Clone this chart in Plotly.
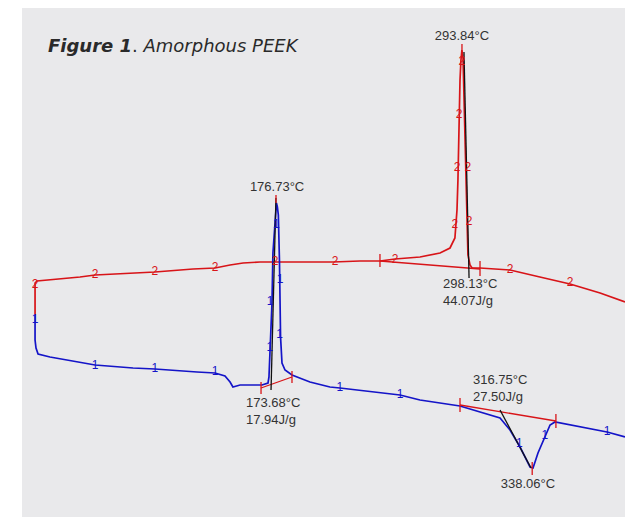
import plotly.graph_objects as go

# ---- DSC data (temperature in °C, heat flow in arbitrary units) ----
# Cycle 2 (red)
red_T = [25.0, 25.0, 26.2, 34.4, 40.7, 53.3, 62.8, 78.5, 100.5, 124.5, 138.3, 147.8, 156.0,
         166.7, 176.1, 212.6, 229.6, 242.2, 251.7, 267.4, 280.0, 286.3, 289.4, 290.1, 290.7,
         291.3, 292.0, 292.6, 293.2, 293.8, 294.5, 295.1, 295.7, 296.4, 297.0, 297.6, 298.9,
         300.2, 305.2, 324.1, 342.9, 361.9, 380.8, 396.5]
red_hf = [8.5, 11.7, 11.9, 12.0, 12.1, 12.3, 12.5, 12.6, 12.8, 13.1, 13.2, 13.5, 13.7,
          13.8, 13.8, 13.8, 13.9, 13.9, 14.1, 14.3, 14.7, 15.2, 16.2, 17.5, 19.0,
          22.0, 28.0, 32.0, 34.0, 35.0, 34.2, 30.0, 25.0, 20.0, 16.5, 14.5, 13.5,
          13.2, 13.2, 13.0, 12.3, 11.6, 10.7, 9.8]

# Cycle 1 (blue)
blue_T = [25.0, 25.0, 25.6, 26.9, 34.4, 45.1, 62.8, 86.7, 100.5, 127.0, 138.3, 144.6, 147.8,
          149.6, 154.1, 167.9, 171.7, 172.3, 173.0, 174.2, 174.8, 176.1, 177.0, 177.6, 178.2,
          178.9, 179.3, 179.6, 180.5, 182.4, 186.8, 191.8, 198.1, 210.7, 217.0, 254.8, 267.4,
          292.6, 305.2, 317.8, 324.1, 330.4, 336.7, 338.6, 341.7, 346.1, 349.3, 352.4, 361.9,
          385.2, 396.5]
blue_hf = [8.5, 6.0, 5.2, 4.6, 4.3, 4.0, 3.5, 3.2, 3.1, 2.8, 2.7, 2.4, 1.8,
           1.3, 1.5, 1.5, 1.7, 2.3, 5.0, 9.7, 14.7, 18.0, 19.7, 19.3, 18.5,
           14.0, 10.0, 6.3, 3.7, 3.0, 2.5, 2.2, 1.8, 1.3, 1.2, 0.5, 0.0,
           -0.6, -1.2, -1.8, -3.0, -4.7, -6.7, -6.8, -5.3, -3.7, -2.5, -2.2, -2.5,
           -3.2, -3.7]

# Analysis: integration baselines (start, end) and tangent lines
base_T = [[167.3, 186.8], [242.2, 305.2], [292.6, 353.0]]
base_hf = [[1.2, 2.3], [13.9, 13.1], [-0.5, -2.1]]
tang_T = [[176.7, 173.6], [295.1, 298.3], [317.8, 337.3]]
tang_hf = [[20.2, 1.0], [34.8, 12.2], [-1.0, -6.8]]
tick_T = [167.3, 186.8, 242.2, 305.2, 292.6, 353.0, 338.06, 176.73, 293.84]
tick_lo = [0.6, 1.7, 13.3, 12.4, -1.2, -2.8, -7.5, 19.7, 34.9]
tick_hi = [1.8, 2.9, 14.6, 13.9, 0.2, -1.4, -6.2, 20.5, 35.6]

# Curve identifier markers
red_mark_T = [25.0, 62.8, 100.5, 138.3, 176.1, 213.9, 251.7, 289.4, 298.3, 290.7, 297.6, 292.0, 293.8, 324.1, 361.9]
red_mark_hf = [11.5, 12.5, 12.8, 13.2, 13.8, 13.8, 14.0, 17.5, 17.8, 23.2, 23.2, 28.5, 33.8, 13.0, 11.7]
blue_mark_T = [25.0, 62.8, 100.5, 138.3, 217.0, 254.8, 385.2, 177.0, 179.3, 173.0, 179.0, 172.8, 330.0, 346.0]
blue_mark_hf = [8.0, 3.4, 3.1, 2.8, 1.2, 0.5, -3.2, 17.5, 12.0, 9.8, 6.5, 5.2, -4.4, -3.6]

# Result labels
lab_T = [293.8, 177.4, 335.4]
lab_hf = [36.3, 21.2, -8.5]
lab_text = ["293.84°C", "176.73°C", "338.06°C"]
res_T = [280.6, 156.6, 299.5]
res_hf = [10.8, -1.1, 1.2]
res_text = ["298.13°C<br>44.07J/g", "173.68°C<br>17.94J/g", "316.75°C<br>27.50J/g"]

RED = "#d81418"
BLUE = "#1414c8"
LABEL_FONT = dict(color="#333333", size=13, family="Liberation Sans")

fig = go.Figure()
fig.add_trace(go.Scatter(x=red_T, y=red_hf, mode="lines",
                         line=dict(color=RED, width=1.7), hoverinfo="skip"))
fig.add_trace(go.Scatter(x=blue_T, y=blue_hf, mode="lines",
                         line=dict(color=BLUE, width=1.7), hoverinfo="skip"))
for bx, by in zip(base_T, base_hf):
    fig.add_trace(go.Scatter(x=bx, y=by, mode="lines",
                             line=dict(color=RED, width=1.3), hoverinfo="skip"))
for tx, ty in zip(tang_T, tang_hf):
    fig.add_trace(go.Scatter(x=tx, y=ty, mode="lines",
                             line=dict(color="#111111", width=1.3), hoverinfo="skip"))
for t, lo, hi in zip(tick_T, tick_lo, tick_hi):
    fig.add_trace(go.Scatter(x=[t, t], y=[lo, hi], mode="lines",
                             line=dict(color=RED, width=1.3), hoverinfo="skip"))
fig.add_trace(go.Scatter(x=red_mark_T, y=red_mark_hf, mode="text", text=["2"] * len(red_mark_T),
                         textfont=dict(color=RED, size=12, family="Liberation Sans"),
                         hoverinfo="skip"))
fig.add_trace(go.Scatter(x=blue_mark_T, y=blue_mark_hf, mode="text", text=["1"] * len(blue_mark_T),
                         textfont=dict(color=BLUE, size=12, family="Liberation Sans"),
                         hoverinfo="skip"))
fig.add_trace(go.Scatter(x=lab_T, y=lab_hf, mode="text", text=lab_text,
                         textfont=LABEL_FONT, hoverinfo="skip"))
for x, y, t in zip(res_T, res_hf, res_text):
    fig.add_annotation(x=x, y=y, text=t, showarrow=False, xanchor="left", align="left",
                       font=LABEL_FONT)

fig.add_annotation(xref="paper", yref="paper", x=0.040, y=0.927, xanchor="left", yanchor="middle",
                   showarrow=False,
                   text="<b><i>Figure 1</i></b>. <i>Amorphous PEEK</i>",
                   font=dict(color="#2a2a2a", size=18, family="DejaVu Sans"))

fig.update_layout(
    width=625, height=517,
    margin=dict(l=22, r=0, t=8, b=0),
    paper_bgcolor="white", plot_bgcolor="#e9e9eb",
    showlegend=False,
    xaxis=dict(range=[16.78, 396.5], visible=False, fixedrange=True),
    yaxis=dict(range=[-11.7, 39.2], visible=False, fixedrange=True),
)
# Remove the browser's default page margin so the figure sits at the window origin.
fig.write_html("out.html",
               config={"displayModeBar": False, "staticPlot": True},
               post_script="document.body.style.margin='0';document.body.style.overflow='hidden';")
